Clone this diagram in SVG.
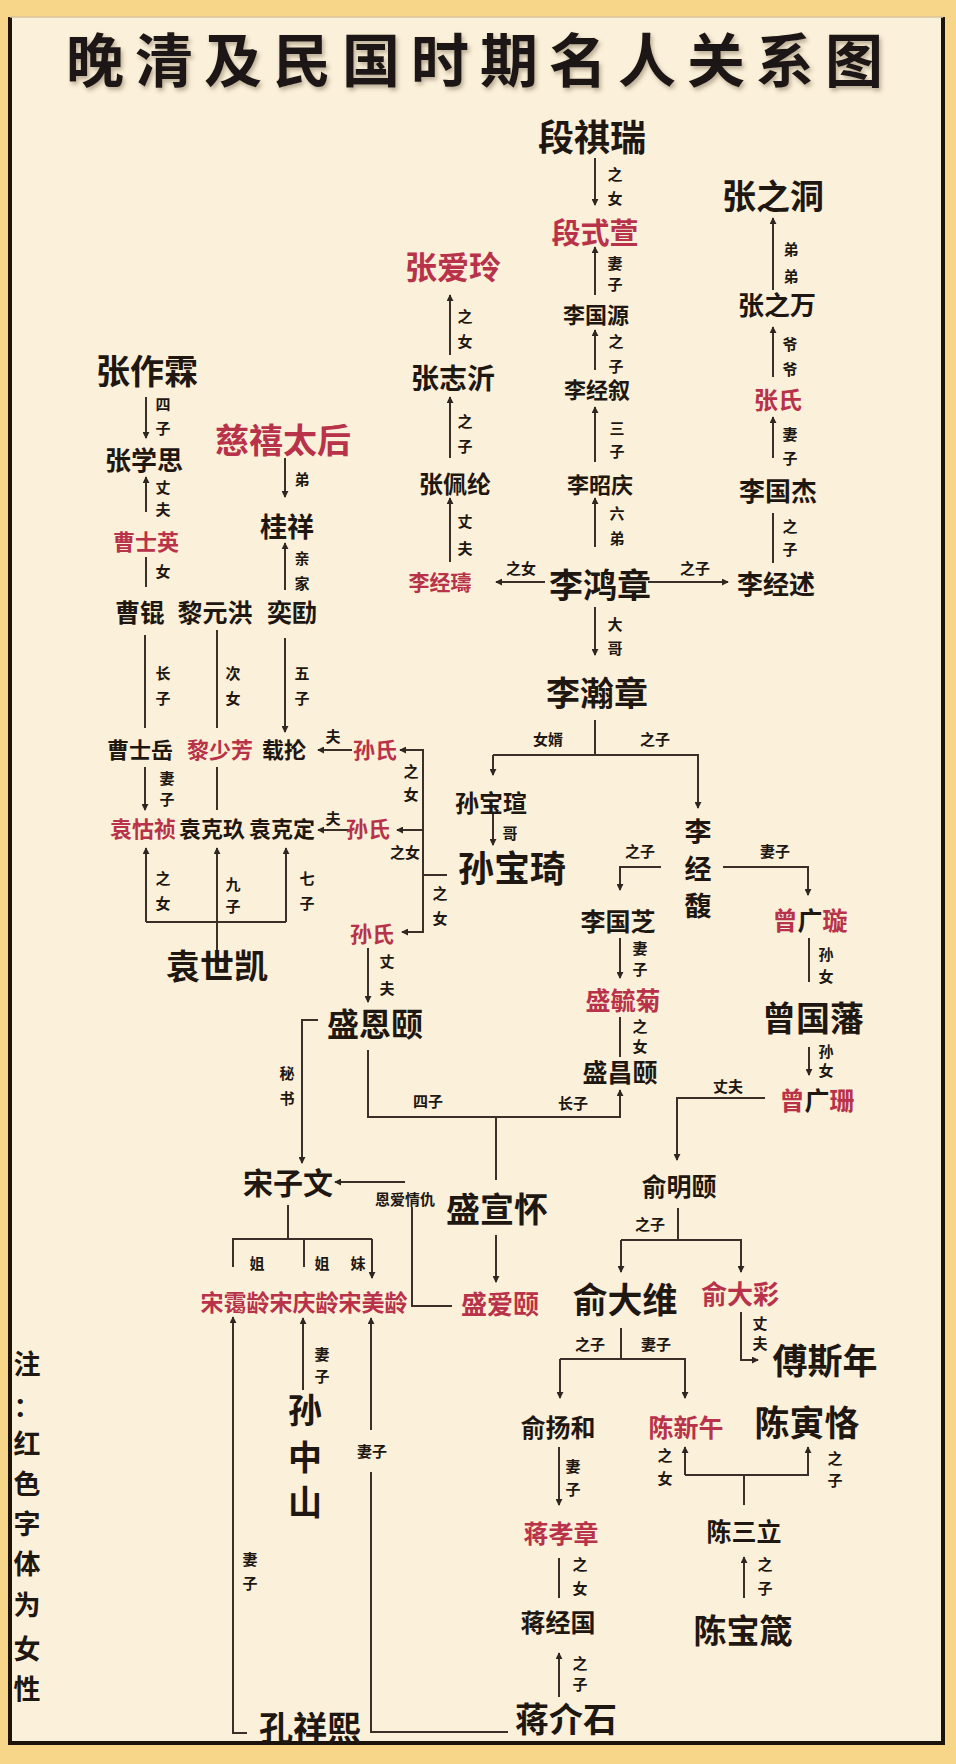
<svg xmlns="http://www.w3.org/2000/svg" width="956" height="1764" viewBox="0 0 956 1764">
<defs>
<marker id="a" viewBox="0 0 8 8" refX="7" refY="4" markerWidth="7" markerHeight="7" markerUnits="userSpaceOnUse" orient="auto"><path d="M0,0 L8,4 L0,8 z" fill="#2e2620"/></marker>
<filter id="sh" x="-5%" y="-20%" width="110%" height="150%"><feDropShadow dx="2" dy="3" stdDeviation="2" flood-color="#6b5a44" flood-opacity="0.45"/></filter>
<style>
.t{font-family:"Noto Sans CJK SC","Noto Sans CJK TC",sans-serif;font-weight:700;text-anchor:middle;dominant-baseline:central;fill:#1e1712}
.r{fill:#b8324a}
.l{font-family:"Noto Sans CJK SC",sans-serif;font-weight:700;font-size:15px;text-anchor:middle;dominant-baseline:central;fill:#1e1712}
.c path{stroke:#3a3029;stroke-width:2;fill:none}
.ar{marker-end:url(#a)}
</style>
</defs>
<rect x="0" y="0" width="956" height="1764" fill="#f7d68a"/>
<rect x="10" y="17" width="933" height="1726" fill="#fbf0d9"/>
<path d="M10,17 V1743 H943 V17" fill="none" stroke="#1c140c" stroke-width="4"/>
<path d="M10,17 H943" fill="none" stroke="#d8c49a" stroke-width="1.5"/>

<g id="title"><text class="t" x="480" y="57" font-size="58" letter-spacing="11" filter="url(#sh)">晚清及民国时期名人关系图</text></g>

<g id="note"><text class="t" font-size="27" x="27"><tspan x="27" y="1362">注</tspan><tspan x="27" y="1405">：</tspan><tspan x="27" y="1442">红</tspan><tspan x="27" y="1482">色</tspan><tspan x="27" y="1522">字</tspan><tspan x="27" y="1562">体</tspan><tspan x="27" y="1603">为</tspan><tspan x="27" y="1647">女</tspan><tspan x="27" y="1687">性</tspan></text></g>

<g class="c" id="connectors">
<path class="ar" d="M595,158 V205"/>
<path class="ar" d="M595,295 V247"/>
<path class="ar" d="M773,290 V218"/>
<path class="ar" d="M595,370 V330"/>
<path class="ar" d="M773,377 V327"/>
<path class="ar" d="M595,462 V407"/>
<path class="ar" d="M773,458 V417"/>
<path class="ar" d="M595,547 V498"/>
<path d="M773,563 V513"/>
<path class="ar" d="M545,582 H496"/>
<path class="ar" d="M648,582 H728"/>
<path class="ar" d="M450,355 V295"/>
<path class="ar" d="M450,458 V397"/>
<path class="ar" d="M450,562 V498"/>
<path class="ar" d="M146,397 V438"/>
<path class="ar" d="M146,512 V477"/>
<path d="M146,587 V557"/>
<path class="ar" d="M285,458 V497"/>
<path class="ar" d="M285,590 V543"/>
<path d="M145,635 V728"/>
<path d="M217,630 V728"/>
<path class="ar" d="M285,638 V732"/>
<path class="ar" d="M352,750 H318"/>
<path class="ar" d="M447,875 H423 V750 H400"/>
<path class="ar" d="M423,830 H397"/>
<path class="ar" d="M423,875 V932 H402"/>
<path class="ar" d="M350,830 H318"/>
<path class="ar" d="M145,767 V810"/>
<path d="M217,767 V810"/>
<path class="ar" d="M146,922 V848"/>
<path class="ar" d="M217,950 V848"/>
<path class="ar" d="M286,922 V848"/>
<path d="M146,922 H286"/>
<path class="ar" d="M493,813 V845"/>
<path class="ar" d="M595,607 V655"/>
<path d="M595,720 V755"/>
<path class="ar" d="M493,755 V775"/>
<path class="ar" d="M493,755 H698 V808"/>
<path class="ar" d="M661,867 H620 V890"/>
<path class="ar" d="M723,867 H808 V895"/>
<path class="ar" d="M620,938 V978"/>
<path d="M620,1017 V1057"/>
<path class="ar" d="M368,948 V1002"/>
<path class="ar" d="M318,1020 H302 V1163"/>
<path class="ar" d="M368,1050 V1117 H620 V1090"/>
<path d="M496,1117 V1180"/>
<path d="M809,938 V982"/>
<path class="ar" d="M809,1047 V1075"/>
<path class="ar" d="M765,1098 H677 V1160"/>
<path d="M678,1208 V1240"/>
<path class="ar" d="M621,1240 V1272"/>
<path class="ar" d="M621,1240 H741 V1272"/>
<path class="ar" d="M741,1312 V1360 H758"/>
<path d="M621,1328 V1359"/>
<path class="ar" d="M560,1359 V1398"/>
<path class="ar" d="M560,1359 H685 V1398"/>
<path d="M744,1505 V1475"/>
<path class="ar" d="M685,1475 V1447"/>
<path class="ar" d="M685,1475 H808 V1447"/>
<path class="ar" d="M744,1598 V1557"/>
<path class="ar" d="M559,1447 V1505"/>
<path d="M559,1558 V1598"/>
<path class="ar" d="M559,1697 V1653"/>
<path d="M288,1205 V1239"/>
<path d="M233,1267 V1239 H372"/>
<path class="ar" d="M372,1239 V1278"/>
<path d="M304,1239 V1267"/>
<path class="ar" d="M405,1182 H335"/>
<path d="M412,1207 V1306 H452"/>
<path class="ar" d="M496,1235 V1282"/>
<path class="ar" d="M247,1733 H233 V1317"/>
<path class="ar" d="M303,1390 V1318"/>
<path d="M508,1732 H371 V1472"/>
<path class="ar" d="M371,1430 V1318"/>
</g>

<g id="labels">
<text class="l"><tspan x="615" y="173">之</tspan><tspan x="615" y="197">女</tspan></text>
<text class="l"><tspan x="615" y="262">妻</tspan><tspan x="615" y="283">子</tspan></text>
<text class="l"><tspan x="791" y="248">弟</tspan><tspan x="791" y="275">弟</tspan></text>
<text class="l"><tspan x="616" y="340">之</tspan><tspan x="616" y="365">子</tspan></text>
<text class="l"><tspan x="790" y="343">爷</tspan><tspan x="790" y="368">爷</tspan></text>
<text class="l"><tspan x="617" y="427">三</tspan><tspan x="617" y="450">子</tspan></text>
<text class="l"><tspan x="790" y="433">妻</tspan><tspan x="790" y="457">子</tspan></text>
<text class="l"><tspan x="617" y="512">六</tspan><tspan x="617" y="537">弟</tspan></text>
<text class="l"><tspan x="790" y="525">之</tspan><tspan x="790" y="548">子</tspan></text>
<text class="l" x="521" y="567">之女</text>
<text class="l" x="695" y="567">之子</text>
<text class="l"><tspan x="465" y="315">之</tspan><tspan x="465" y="340">女</tspan></text>
<text class="l"><tspan x="465" y="420">之</tspan><tspan x="465" y="445">子</tspan></text>
<text class="l"><tspan x="465" y="520">丈</tspan><tspan x="465" y="547">夫</tspan></text>
<text class="l"><tspan x="163" y="403">四</tspan><tspan x="163" y="427">子</tspan></text>
<text class="l"><tspan x="163" y="486">丈</tspan><tspan x="163" y="508">夫</tspan></text>
<text class="l" x="163" y="570">女</text>
<text class="l" x="302" y="478">弟</text>
<text class="l"><tspan x="302" y="557">亲</tspan><tspan x="302" y="582">家</tspan></text>
<text class="l"><tspan x="163" y="672">长</tspan><tspan x="163" y="697">子</tspan></text>
<text class="l"><tspan x="233" y="672">次</tspan><tspan x="233" y="697">女</tspan></text>
<text class="l"><tspan x="302" y="672">五</tspan><tspan x="302" y="697">子</tspan></text>
<text class="l" x="333" y="735">夫</text>
<text class="l"><tspan x="411" y="770">之</tspan><tspan x="411" y="793">女</tspan></text>
<text class="l" x="333" y="817">夫</text>
<text class="l" x="405" y="851">之女</text>
<text class="l"><tspan x="440" y="892">之</tspan><tspan x="440" y="917">女</tspan></text>
<text class="l"><tspan x="167" y="777">妻</tspan><tspan x="167" y="798">子</tspan></text>
<text class="l"><tspan x="163" y="877">之</tspan><tspan x="163" y="902">女</tspan></text>
<text class="l"><tspan x="233" y="883">九</tspan><tspan x="233" y="905">子</tspan></text>
<text class="l"><tspan x="307" y="877">七</tspan><tspan x="307" y="902">子</tspan></text>
<text class="l" x="510" y="832">哥</text>
<text class="l"><tspan x="615" y="623">大</tspan><tspan x="615" y="647">哥</tspan></text>
<text class="l" x="548" y="738">女婿</text>
<text class="l" x="655" y="738">之子</text>
<text class="l" x="640" y="850">之子</text>
<text class="l" x="775" y="850">妻子</text>
<text class="l"><tspan x="640" y="947">妻</tspan><tspan x="640" y="968">子</tspan></text>
<text class="l"><tspan x="640" y="1025">之</tspan><tspan x="640" y="1045">女</tspan></text>
<text class="l"><tspan x="387" y="960">丈</tspan><tspan x="387" y="987">夫</tspan></text>
<text class="l"><tspan x="287" y="1072">秘</tspan><tspan x="287" y="1097">书</tspan></text>
<text class="l" x="428" y="1100">四子</text>
<text class="l" x="573" y="1102">长子</text>
<text class="l"><tspan x="826" y="953">孙</tspan><tspan x="826" y="975">女</tspan></text>
<text class="l"><tspan x="826" y="1050">孙</tspan><tspan x="826" y="1069">女</tspan></text>
<text class="l" x="728" y="1085">丈夫</text>
<text class="l" x="650" y="1223">之子</text>
<text class="l"><tspan x="760" y="1322">丈</tspan><tspan x="760" y="1342">夫</tspan></text>
<text class="l" x="590" y="1343">之子</text>
<text class="l" x="656" y="1343">妻子</text>
<text class="l"><tspan x="665" y="1454">之</tspan><tspan x="665" y="1477">女</tspan></text>
<text class="l"><tspan x="835" y="1457">之</tspan><tspan x="835" y="1479">子</tspan></text>
<text class="l"><tspan x="765" y="1563">之</tspan><tspan x="765" y="1587">子</tspan></text>
<text class="l"><tspan x="573" y="1465">妻</tspan><tspan x="573" y="1488">子</tspan></text>
<text class="l"><tspan x="580" y="1563">之</tspan><tspan x="580" y="1587">女</tspan></text>
<text class="l"><tspan x="580" y="1662">之</tspan><tspan x="580" y="1683">子</tspan></text>
<text class="l" x="257" y="1262">姐</text>
<text class="l" x="322" y="1262">姐</text>
<text class="l" x="358" y="1262">妹</text>
<text class="l" x="405" y="1198" font-size="12">恩爱情仇</text>
<text class="l"><tspan x="250" y="1558">妻</tspan><tspan x="250" y="1582">子</tspan></text>
<text class="l"><tspan x="322" y="1353">妻</tspan><tspan x="322" y="1375">子</tspan></text>
<text class="l" x="372" y="1450">妻子</text>
</g>

<g id="n-duanqirui"><text class="t" x="592" y="135" font-size="36">段祺瑞</text></g>
<g id="n-duanshixuan"><text class="t r" x="595" y="231" font-size="29">段式萱</text></g>
<g id="n-zhangzhidong"><text class="t" x="773" y="194" font-size="34">张之洞</text></g>
<g id="n-liguoyuan"><text class="t" x="596" y="313" font-size="22">李国源</text></g>
<g id="n-zhangzhiwan"><text class="t" x="777" y="303" font-size="26">张之万</text></g>
<g id="n-zhangailing"><text class="t r" x="453" y="265" font-size="32">张爱玲</text></g>
<g id="n-zhangzhiyi"><text class="t" x="453" y="377" font-size="28">张志沂</text></g>
<g id="n-lijingxu"><text class="t" x="597" y="388" font-size="22">李经叙</text></g>
<g id="n-zhangshi"><text class="t r" x="778" y="398" font-size="24">张氏</text></g>
<g id="n-zhangzuolin"><text class="t" x="147" y="369" font-size="34">张作霖</text></g>
<g id="n-zhangxuesi"><text class="t" x="144" y="458" font-size="26">张学思</text></g>
<g id="n-cixi"><text class="t r" x="283" y="438" font-size="34">慈禧太后</text></g>
<g id="n-zhangpeilun"><text class="t" x="455" y="482" font-size="24">张佩纶</text></g>
<g id="n-lizhaoqing"><text class="t" x="600" y="483" font-size="22">李昭庆</text></g>
<g id="n-liguojie"><text class="t" x="778" y="489" font-size="26">李国杰</text></g>
<g id="n-caoshiying"><text class="t r" x="146" y="540" font-size="22">曹士英</text></g>
<g id="n-guixiang"><text class="t" x="287" y="525" font-size="27">桂祥</text></g>
<g id="n-lijingshu"><text class="t r" x="440" y="581" font-size="21">李经璹</text></g>
<g id="n-lihongzhang"><text class="t" x="600" y="583" font-size="34">李鸿章</text></g>
<g id="n-lijingshu2"><text class="t" x="776" y="582" font-size="26">李经述</text></g>
<g id="n-caokun"><text class="t" x="140" y="611" font-size="25">曹锟</text></g>
<g id="n-liyuanhong"><text class="t" x="215" y="611" font-size="25">黎元洪</text></g>
<g id="n-yikuang"><text class="t" x="292" y="611" font-size="25">奕劻</text></g>
<g id="n-lihanzhang"><text class="t" x="597" y="691" font-size="34">李瀚章</text></g>
<g id="n-caoshiyue"><text class="t" x="140" y="748" font-size="22">曹士岳</text></g>
<g id="n-lishaofang"><text class="t r" x="220" y="748" font-size="22">黎少芳</text></g>
<g id="n-zailun"><text class="t" x="284" y="748" font-size="22">载抡</text></g>
<g id="n-sunshi1"><text class="t r" x="375" y="748" font-size="22">孙氏</text></g>
<g id="n-sunbaoxuan"><text class="t" x="491" y="801" font-size="24">孙宝瑄</text></g>
<g id="n-yuanhuzhen"><text class="t r" x="143" y="827" font-size="22">袁怙祯</text></g>
<g id="n-yuankejiu"><text class="t" x="212" y="827" font-size="22">袁克玖</text></g>
<g id="n-yuankeding"><text class="t" x="282" y="827" font-size="22">袁克定</text></g>
<g id="n-sunshi2"><text class="t r" x="368" y="827" font-size="22">孙氏</text></g>
<g id="n-sunbaoqi"><text class="t" x="512" y="866" font-size="36">孙宝琦</text></g>
<g id="n-lijingfu"><text class="t" font-size="27"><tspan x="698" y="830">李</tspan><tspan x="698" y="867">经</tspan><tspan x="698" y="904">馥</tspan></text></g>
<g id="n-liguozhi"><text class="t" x="618" y="920" font-size="25">李国芝</text></g>
<g id="n-zengguangxuan"><text class="t" x="810" y="919" font-size="25"><tspan class="r">曾</tspan>广<tspan class="r">璇</tspan></text></g>
<g id="n-sunshi3"><text class="t r" x="372" y="932" font-size="22">孙氏</text></g>
<g id="n-yuanshikai"><text class="t" x="217" y="964" font-size="34">袁世凯</text></g>
<g id="n-shengenyi"><text class="t" x="375" y="1022" font-size="32">盛恩颐</text></g>
<g id="n-shengyuju"><text class="t r" x="623" y="999" font-size="25">盛毓菊</text></g>
<g id="n-zengguofan"><text class="t" x="813" y="1016" font-size="34">曾国藩</text></g>
<g id="n-shengchangyi"><text class="t" x="620" y="1071" font-size="25">盛昌颐</text></g>
<g id="n-zengguangshan"><text class="t" x="817" y="1099" font-size="25"><tspan class="r">曾</tspan>广<tspan class="r">珊</tspan></text></g>
<g id="n-songziwen"><text class="t" x="288" y="1181" font-size="30">宋子文</text></g>
<g id="n-shengxuanhuai"><text class="t" x="497" y="1207" font-size="34">盛宣怀</text></g>
<g id="n-yumingyi"><text class="t" x="679" y="1185" font-size="25">俞明颐</text></g>
<g id="n-yudawei"><text class="t" x="625" y="1297" font-size="35">俞大维</text></g>
<g id="n-yudacai"><text class="t r" x="740" y="1292" font-size="26">俞大彩</text></g>
<g id="n-songailing"><text class="t r" x="235" y="1301" font-size="23">宋霭龄</text></g>
<g id="n-songqingling"><text class="t r" x="304" y="1301" font-size="23">宋庆龄</text></g>
<g id="n-songmeiling"><text class="t r" x="373" y="1301" font-size="23">宋美龄</text></g>
<g id="n-shengaiyi"><text class="t r" x="500" y="1302" font-size="26">盛爱颐</text></g>
<g id="n-fusinian"><text class="t" x="825" y="1358" font-size="35">傅斯年</text></g>
<g id="n-yuyanghe"><text class="t" x="558" y="1426" font-size="25">俞扬和</text></g>
<g id="n-chenxinwu"><text class="t r" x="686" y="1426" font-size="25">陈新午</text></g>
<g id="n-chenyinke"><text class="t" x="807" y="1420" font-size="35">陈寅恪</text></g>
<g id="n-sunzhongshan"><text class="t" font-size="34"><tspan x="305" y="1408">孙</tspan><tspan x="305" y="1455">中</tspan><tspan x="305" y="1500">山</tspan></text></g>
<g id="n-chensanli"><text class="t" x="744" y="1530" font-size="25">陈三立</text></g>
<g id="n-jiangxiaozhang"><text class="t r" x="561" y="1532" font-size="25">蒋孝章</text></g>
<g id="n-jiangjingguo"><text class="t" x="558" y="1621" font-size="25">蒋经国</text></g>
<g id="n-chenbaozhen"><text class="t" x="743" y="1629" font-size="33">陈宝箴</text></g>
<g id="n-jiangjieshi"><text class="t" x="566" y="1717" font-size="34">蒋介石</text></g>
<g id="n-kongxiangxi"><text class="t" x="310" y="1726" font-size="34">孔祥熙</text></g>
</svg>
